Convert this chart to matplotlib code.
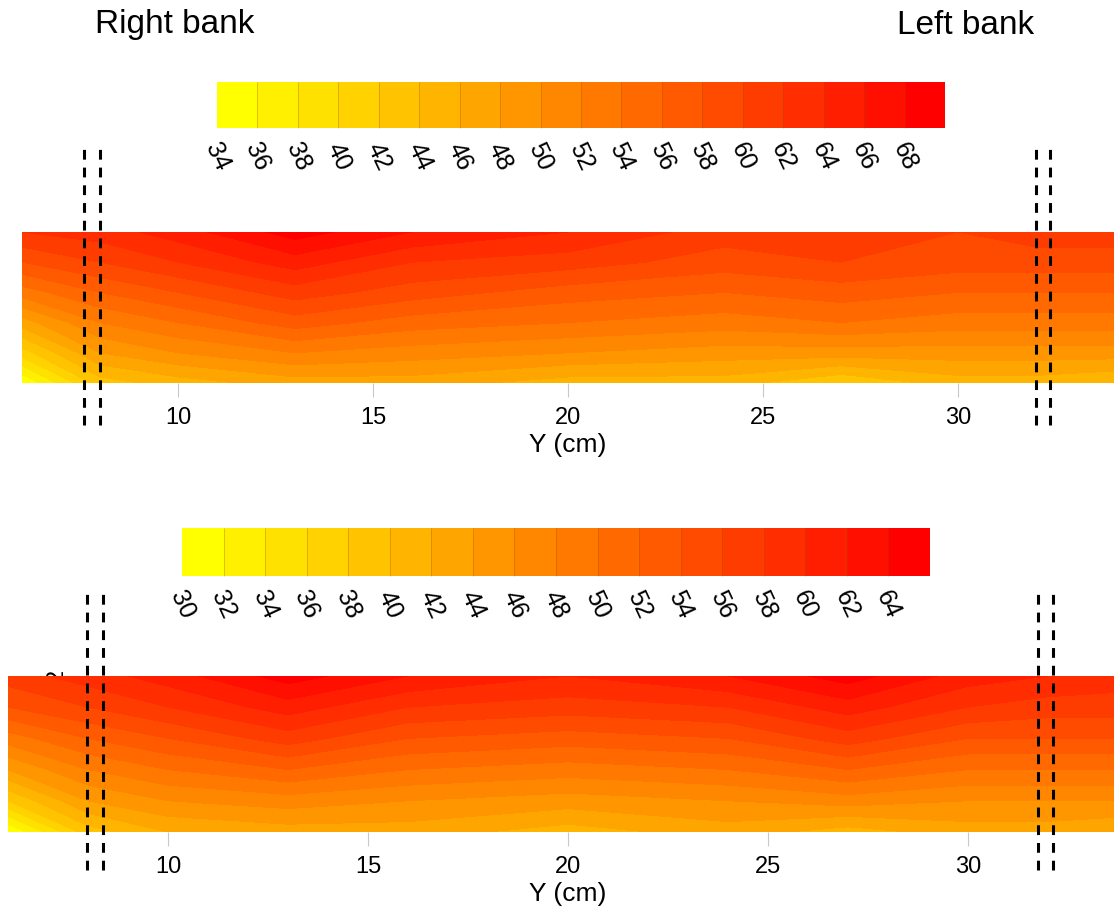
import numpy as np
import matplotlib
matplotlib.use("Agg")
import matplotlib.pyplot as plt

plt.rcParams["font.family"] = ["Liberation Sans", "DejaVu Sans"]

# lateral position across the channel (cm) and relative depth of the grid rows
y_cm = [6, 8, 10, 13, 16, 20, 24, 27, 30, 32, 34]
depth = [0.0, 0.2, 0.4, 0.6, 0.8, 1.0]

# upper panel values, one row per depth (bottom row first)
top_vals = [
    [34, 43, 45, 47, 47, 45, 45, 42, 45, 45, 44],
    [41, 48, 50, 52, 51, 50, 49, 49, 49, 49, 49],
    [47, 52, 54, 57, 55, 54, 53, 54, 53, 53, 53],
    [53, 56, 58, 61, 59, 57, 56, 57, 56, 56, 56],
    [58, 60, 62, 65, 62, 61, 59, 60, 59, 59, 59],
    [62, 63, 65, 69, 66, 64, 61, 61, 60, 61, 61],
]
top_levels = list(range(34, 72, 2))

# lower panel values
bot_vals = [
    [30, 39, 42, 43, 43, 41, 43, 41, 43, 43, 42],
    [38, 44, 46, 47, 46, 45, 46, 47, 46, 46, 46],
    [44, 48, 50, 52, 50, 49, 50, 52, 50, 50, 50],
    [49, 52, 54, 57, 54, 53, 54, 57, 54, 54, 54],
    [54, 56, 58, 61, 58, 57, 58, 61, 58, 57, 57],
    [57, 59, 61, 65, 62, 60, 62, 65, 61, 60, 59],
]
bot_levels = list(range(30, 68, 2))

bank_lines_top = [7.6, 8.0, 32.0, 32.35]
bank_lines_bot = [7.98, 8.38, 31.75, 32.13]
xticks = [10, 15, 20, 25, 30]

W, H = 1114, 910
fig = plt.figure(figsize=(W / 100, H / 100), dpi=100)


def px(x0, y0, x1, y1):
    return [x0 / W, 1 - y1 / H, (x1 - x0) / W, (y1 - y0) / H]


def panel(ax_box, cb_box, vals, levels, lines, dash_span):
    ax = fig.add_axes(px(*ax_box))
    n = len(levels) - 1
    cols = plt.cm.autumn_r(np.linspace(0, 1, n))
    cf = ax.contourf(y_cm, depth, np.array(vals), levels=levels, colors=cols)
    ax.set_xlim(6, 34)
    ax.set_ylim(0, 1)
    for s in ax.spines.values():
        s.set_visible(False)
    ax.set_yticks([])
    ax.set_xticks(xticks)
    ax.tick_params(axis="x", length=10, width=0.8, color="#c8c8c8",
                   labelsize=17, pad=7)
    ax.set_xlabel("Y (cm)", fontsize=19, labelpad=3)
    for x in lines:
        ax.plot([x, x], dash_span, color="black", lw=2.2,
                dashes=(3.2, 2.6), clip_on=False, zorder=5)

    cax = fig.add_axes(px(*cb_box))
    cb = fig.colorbar(cf, cax=cax, orientation="horizontal",
                      ticks=levels[:-1], drawedges=True)
    cb.outline.set_visible(False)
    cb.dividers.set_color((0.55, 0.35, 0.0, 0.35))
    cb.dividers.set_linewidth(0.6)
    cax.tick_params(length=0, labelsize=18, pad=8)
    for t in cax.get_xticklabels():
        t.set_rotation(-65)
        t.set_ha("center")
        t.set_va("top")
    return ax


panel((22, 232, 1114, 383), (217, 82, 945, 128), top_vals, top_levels,
      bank_lines_top, [-0.278, 1.556])
panel((8, 676, 1128, 832), (182, 528, 930, 576), bot_vals, bot_levels,
      bank_lines_bot, [-0.244, 1.54])

fig.text(95 / W, 1 - 25 / H, "Right bank", fontsize=24, ha="left", va="center")
fig.text(1034 / W, 1 - 25 / H, "Left bank", fontsize=24, ha="right", va="center")
fig.text(57 / W, 1 - 675 / H, "2", fontsize=17, rotation=90, ha="center",
         va="center", zorder=-1)

fig.savefig("out.png", dpi=100)
